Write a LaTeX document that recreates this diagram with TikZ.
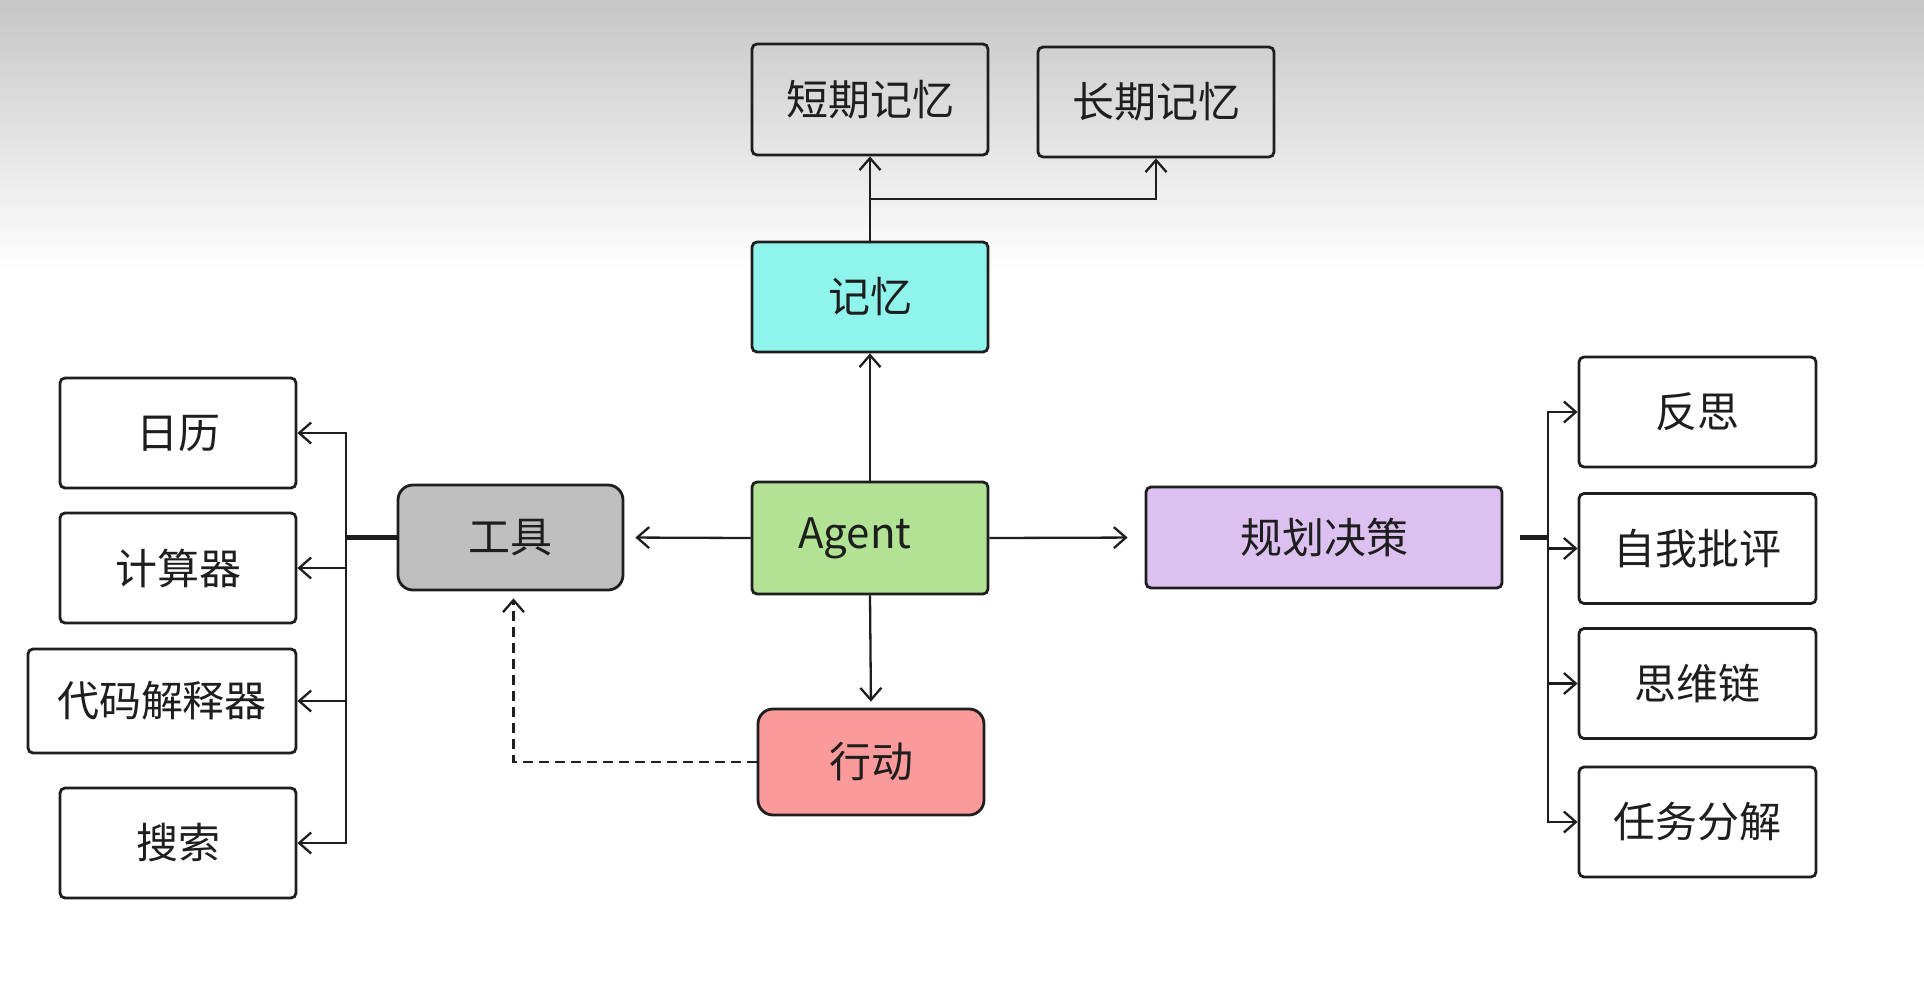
\documentclass[tikz,border=0pt]{standalone}
\usepackage{fontspec}
\newfontfamily\cjk{Noto Sans CJK SC}
\usetikzlibrary{arrows.meta}
\definecolor{ink}{HTML}{1E1E1E}
\definecolor{bgtop}{HTML}{C6C6C6}
\definecolor{memc}{HTML}{8FF5EC}
\definecolor{agentc}{HTML}{B2E294}
\definecolor{toolc}{HTML}{BFBFBF}
\definecolor{planc}{HTML}{DCC1F0}
\definecolor{actc}{HTML}{FA9A9A}
\begin{document}
\begin{tikzpicture}[x=0.5pt,y=-0.5pt,
  box/.style={draw=ink, line width=1.4pt, rounded corners=2.5pt, inner sep=0pt,
    font=\cjk\fontsize{21pt}{24pt}\selectfont, text=ink},
  wbox/.style={box, fill=white, minimum width=118pt, minimum height=55pt},
  arr/.style={draw=ink, line width=1.15pt, -{Straight Barb[length=6pt,width=10.5pt,line width=1.15pt]}},
  stub/.style={draw=ink, line width=2.2pt},
  dashline/.style={arr, dash pattern=on 5pt off 3pt},
]
\useasboundingbox (0,0) rectangle (1924,992);
\fill[white] (0,0) rectangle (1924,992);
\shade[top color=bgtop, bottom color=white] (0,0) rectangle (1924,270);

% top memory boxes
\node[box, minimum width=118pt, minimum height=55.5pt] (stm) at (870,99.5) {短期记忆};
\node[box, minimum width=118pt, minimum height=55pt] (ltm) at (1156,102) {长期记忆};
\node[box, fill=memc, minimum width=118pt, minimum height=55pt] (mem) at (870,297) {记忆};

% centre
\node[box, fill=agentc, minimum width=118pt, minimum height=56pt] (agent) at (870,538) {\hspace*{-15pt}Agent};
\node[box, fill=toolc, rounded corners=7.5pt, minimum width=112.5pt, minimum height=52.5pt] (tool) at (510.5,537.5) {工具};
\node[box, fill=planc, minimum width=178pt, minimum height=50.5pt] (plan) at (1324,537.5) {规划决策};
\node[box, fill=actc, rounded corners=7.5pt, minimum width=113pt, minimum height=53pt] (act) at (871,762) {行动};

% left tools
\node[wbox] (cal) at (178,433) {日历};
\node[wbox] (calc) at (178,568) {计算器};
\node[wbox, minimum width=134pt, minimum height=52pt] (code) at (162,701) {代码解释器};
\node[wbox] (search) at (178,843) {搜索};

% right planning items
\node[wbox, minimum width=118.5pt] (r1) at (1697.5,412) {反思};
\node[wbox, minimum width=118.5pt] (r2) at (1697.5,548.5) {自我批评};
\node[wbox, minimum width=118.5pt] (r3) at (1697.5,683.5) {思维链};
\node[wbox, minimum width=118.5pt] (r4) at (1697.5,822) {任务分解};

% connectors
\coordinate (mb) at (870,199);
\draw[arr] (mem.north) -- (stm.south);
\draw[arr] (mb) -| (ltm.south);
\draw[arr] (agent.north) -- (mem.south);
\draw[arr, shorten >=5.5pt] (agent.west) -- (tool.east);
\draw[arr, shorten >=8.5pt] (agent.east) -- (plan.west);
\draw[arr, shorten >=3pt] (agent.south) -- (act.north);
\draw[dashline, shorten >=3.5pt] (act.west) -| ([xshift=1.5pt]tool.south);

\coordinate (tl) at (346,537.5);
\draw[stub] (tool.west) -- (tl);
\draw[arr] (tl) |- (cal.east);
\draw[arr] (tl) |- (calc.east);
\draw[arr] (tl) |- (code.east);
\draw[arr] (tl) |- (search.east);

\coordinate (pr) at (1548,537.5);
\draw[stub] ([xshift=8.5pt]plan.east) -- (pr);
\draw[arr] (pr) |- (r1.west);
\draw[arr] (pr) |- (r2.west);
\draw[arr] (pr) |- (r3.west);
\draw[arr] (pr) |- (r4.west);
\end{tikzpicture}
\end{document}
